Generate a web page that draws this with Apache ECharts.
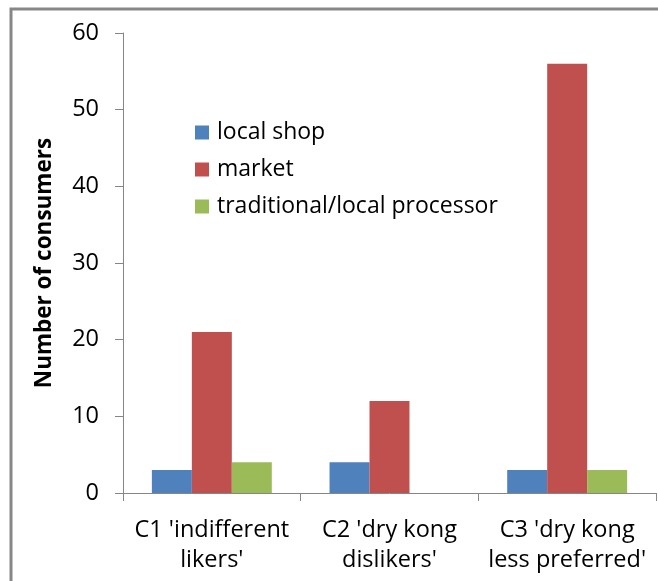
<!DOCTYPE html>
<html>
<head>
<meta charset="utf-8">
<script src="https://cdn.jsdelivr.net/npm/echarts@6/dist/echarts.min.js"></script>
<style>
html,body{margin:0;padding:0;background:#fff;}
#chart{width:658px;height:581px;}
</style>
</head>
<body>
<div id="chart"></div>
<script>
var categories = ["C1 'indifferent\nlikers'", "C2 'dry kong\ndislikers'", "C3 'dry kong\nless preferred'"];
var localShop = [3, 4, 3];
var market = [21, 12, 56];
var traditional = [4, 0, 3];
var seriesNames = ["local shop", "market", "traditional/local processor"];
var colors = ["#4F81BD", "#C0504D", "#9BBB59"];
var yTicks = { min: 0, max: 60, interval: 10 };

var font = "'Open Sans', sans-serif";
var chart = echarts.init(document.getElementById('chart'));
chart.setOption({
  animation: false,
  color: colors,
  graphic: [{
    type: 'rect',
    shape: { x: 11, y: 9, width: 700, height: 700 },
    style: { fill: 'none', stroke: '#878787', lineWidth: 3 },
    silent: true
  }],
  grid: { left: 123, right: 2, top: 33, bottom: 88, containLabel: false },
  legend: {
    orient: 'vertical',
    left: 190,
    top: 116,
    itemWidth: 14,
    itemHeight: 14,
    itemGap: 14,
    icon: 'rect',
    textStyle: { fontFamily: font, fontSize: 23, color: '#000', padding: [0, 0, 0, 3] },
    data: seriesNames
  },
  xAxis: {
    type: 'category',
    data: categories,
    axisLine: { lineStyle: { color: '#868686', width: 1 } },
    axisTick: { show: true, length: 8, alignWithLabel: false, lineStyle: { color: '#868686' } },
    axisLabel: { fontFamily: font, fontSize: 23.5, color: '#000', lineHeight: 30, margin: 22, interval: 0 }
  },
  yAxis: {
    type: 'value',
    min: yTicks.min,
    max: yTicks.max,
    interval: yTicks.interval,
    name: 'Number of consumers',
    nameLocation: 'middle',
    nameGap: 67,
    nameTextStyle: { fontFamily: font, fontSize: 22.5, fontWeight: 'bold', color: '#000' },
    axisLine: { show: true, lineStyle: { color: '#868686', width: 1 } },
    axisTick: { show: true, length: 8, lineStyle: { color: '#868686' } },
    splitLine: { show: false },
    axisLabel: { fontFamily: font, fontSize: 23.5, color: '#000', margin: 24 }
  },
  series: [
    { name: seriesNames[0], type: 'bar', data: localShop, barGap: '0%', barCategoryGap: '32.5%' },
    { name: seriesNames[1], type: 'bar', data: market, barGap: '0%', barCategoryGap: '32.5%' },
    { name: seriesNames[2], type: 'bar', data: traditional, barGap: '0%', barCategoryGap: '32.5%' }
  ]
});
</script>
</body>
</html>
